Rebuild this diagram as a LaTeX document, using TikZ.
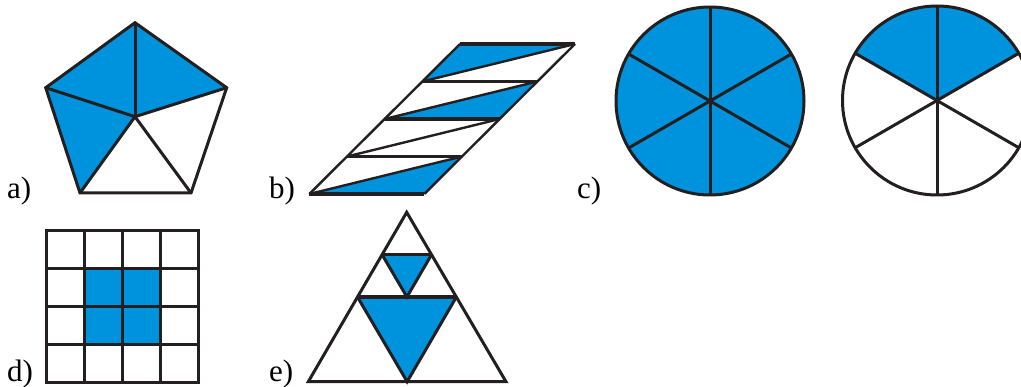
\documentclass[tikz,border=0pt]{standalone}
\usepackage{fontspec}
\setmainfont{Liberation Serif}
\usetikzlibrary{calc}
\definecolor{fracblue}{HTML}{0093DD}
\definecolor{inkc}{HTML}{231F20}
\begin{document}
\begin{tikzpicture}[x=1pt,y=-1pt,
  edge/.style={draw=inkc,line width=3pt,line join=miter},
  thinedge/.style={draw=inkc,line width=2.4pt},
  shade/.style={fill=fracblue},
  lbl/.style={anchor=base west,inner sep=0pt,font=\fontsize{31}{34}\selectfont}]
\useasboundingbox (0,0) rectangle (1021,387);
\clip (0,0) rectangle (1021,387);
% ---------- a) pentagon
\coordinate (pT) at (135,22.7);
\coordinate (pL) at (45.7,87.7);
\coordinate (pR) at (226.7,87.7);
\coordinate (pBL) at (80,193);
\coordinate (pBR) at (191,193);
\coordinate (pC) at (135,116.7);
\fill[shade] (pT)--(pL)--(pBL)--(pC)--cycle;
\fill[shade] (pT)--(pR)--(pC)--cycle;
\draw[edge] (pT)--(pR)--(pBR)--(pBL)--(pL)--cycle;
\foreach \v in {pT,pL,pR,pBL,pBR} \draw[edge] (pC)--(\v);
\node[lbl] (la) at (7,199) {a)};
% ---------- b) parallelogram
\coordinate (L0) at (460,44);    \coordinate (R0) at (575,44);
\coordinate (L1) at (422.3,81.5);\coordinate (R1) at (537.3,81.5);
\coordinate (L2) at (384.6,119); \coordinate (R2) at (499.6,119);
\coordinate (L3) at (347,156.5); \coordinate (R3) at (462,156.5);
\coordinate (L4) at (309.3,194); \coordinate (R4) at (424.3,194);
\fill[shade] (L0)--(R0)--(L1)--cycle;
\fill[shade] (L2)--(R1)--(R2)--cycle;
\fill[shade] (L4)--(R3)--(R4)--cycle;
\draw[thinedge] (L0)--(L4) (R0)--(R4);
\draw[thinedge] (L1)--(R0) (L2)--(R1) (L3)--(R2) (L4)--(R3);
\draw[edge,line width=3.6pt] (L0)--(R0) (L1)--(R1) (L2)--(R2) (L3)--(R3) (L4)--(R4);
\node[lbl] (lb) at (269,199) {b)};
% ---------- c) circles
\coordinate (c1) at (710,101);
\coordinate (c2) at (937,100.5);
\fill[shade] (c1) circle (94);
\draw[edge] (c1) circle (94);
\foreach \a in {90,30,150} \draw[edge] ($(c1)+(\a:94)$)--($(c1)+(\a+180:94)$);
\fill[shade] (c2)--($(c2)+(-30:94.5)$) arc (-30:-150:94.5)--cycle;
\draw[edge] (c2) circle (94.5);
\foreach \a in {90,30,150} \draw[edge] ($(c2)+(\a:94.5)$)--($(c2)+(\a+180:94.5)$);
\node[lbl] (lc) at (577,199) {c)};
% ---------- d) grid
\coordinate (g0) at (46.5,230.5);
\coordinate (g1) at (198.5,382.5);
\fill[shade] (84.5,268.5) rectangle (160.5,344.5);
\foreach \i in {1,2,3} {
  \draw[edge] ($(g0)+(38*\i,0)$)--($(g0)+(38*\i,152)$);
  \draw[edge] ($(g0)+(0,38*\i)$)--($(g0)+(152,38*\i)$);
}
\draw[edge,line width=3.4pt] (g0) rectangle (g1);
\node[lbl] (ld) at (7,382) {d)};
% ---------- e) triangle
\coordinate (tT) at (406.7,212.3);
\coordinate (tL) at (308.3,381.7);
\coordinate (tR) at (506,381.7);
\coordinate (mL) at ($(tT)!0.5!(tL)$);
\coordinate (mR) at ($(tT)!0.5!(tR)$);
\coordinate (mB) at ($(tL)!0.5!(tR)$);
\coordinate (sL) at ($(tT)!0.5!(mL)$);
\coordinate (sR) at ($(tT)!0.5!(mR)$);
\coordinate (sB) at ($(mL)!0.5!(mR)$);
\fill[shade] (mL)--(mR)--(mB)--cycle;
\fill[shade] (sL)--(sR)--(sB)--cycle;
\draw[edge] (tT)--(tR)--(tL)--cycle;
\draw[edge] (mL)--(mB)--(mR);
\draw[edge,line width=3.6pt] (mL)--(mR);
\draw[edge] (sL)--(sB)--(sR);
\draw[edge] (sL)--(sR);
\node[lbl] (le) at (269,382) {e)};
\end{tikzpicture}
\end{document}
